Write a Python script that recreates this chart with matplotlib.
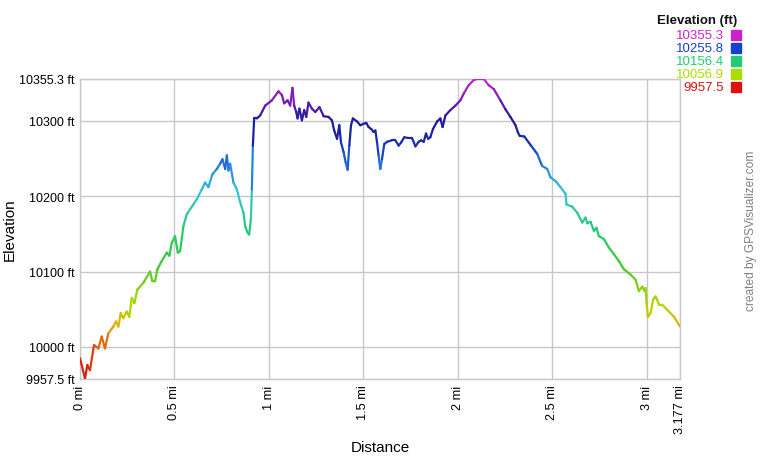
import numpy as np
import matplotlib
matplotlib.use("Agg")
import matplotlib.pyplot as plt
from matplotlib.collections import LineCollection
from matplotlib.colors import LinearSegmentedColormap, Normalize

plt.rcParams['font.family'] = ['Liberation Sans', 'DejaVu Sans']

# distance (mi)
distance = [0.0, 0.0265, 0.0387, 0.053, 0.0742, 0.097, 0.115, 0.1325, 0.15, 0.1765,
            0.1908, 0.203, 0.2157, 0.2295, 0.2475, 0.2613, 0.274, 0.2878, 0.3037, 0.3355,
            0.371, 0.3832, 0.3975, 0.4097, 0.433, 0.4595, 0.4733, 0.486, 0.5035, 0.5178,
            0.53, 0.5475, 0.5655, 0.6005, 0.6185, 0.645, 0.6625, 0.68, 0.7012, 0.7245,
            0.742, 0.7542, 0.7685, 0.7776, 0.786, 0.795, 0.8125, 0.8305, 0.848, 0.8655,
            0.8745, 0.8867, 0.8957, 0.9048, 0.91, 0.9154, 0.9222, 0.9366, 0.954, 0.9806,
            1.016, 1.051, 1.069, 1.081, 1.099, 1.113, 1.125, 1.134, 1.145, 1.152,
            1.162, 1.175, 1.187, 1.198, 1.21, 1.228, 1.246, 1.268, 1.29, 1.316,
            1.334, 1.346, 1.361, 1.373, 1.382, 1.396, 1.408, 1.417, 1.426, 1.435,
            1.445, 1.467, 1.484, 1.502, 1.516, 1.528, 1.542, 1.555, 1.564, 1.573,
            1.581, 1.59, 1.599, 1.611, 1.626, 1.652, 1.67, 1.687, 1.7, 1.717,
            1.74, 1.758, 1.776, 1.793, 1.806, 1.82, 1.832, 1.843, 1.855, 1.869,
            1.891, 1.908, 1.92, 1.935, 1.961, 1.988, 2.014, 2.032, 2.058, 2.085,
            2.103, 2.138, 2.164, 2.191, 2.226, 2.253, 2.279, 2.306, 2.318, 2.328,
            2.353, 2.385, 2.421, 2.447, 2.474, 2.491, 2.518, 2.544, 2.571, 2.576,
            2.606, 2.633, 2.659, 2.677, 2.686, 2.703, 2.721, 2.735, 2.747, 2.774,
            2.8, 2.827, 2.853, 2.88, 2.915, 2.942, 2.959, 2.977, 2.99, 2.995,
            3.0, 3.007, 3.021, 3.035, 3.048, 3.066, 3.083, 3.118, 3.145, 3.177]

# elevation (ft)
elevation = [9985, 9958, 9976, 9969, 10002.7, 9998, 10013.8, 9998, 10018, 10027,
             10033.8, 10027, 10045, 10038, 10047, 10040, 10065, 10058, 10076, 10085,
             10100, 10087, 10087, 10103, 10114, 10125, 10121, 10138, 10147, 10125,
             10127, 10160, 10176, 10189, 10196, 10209, 10218, 10212, 10229, 10236,
             10243, 10249, 10236, 10254, 10234, 10243, 10218, 10209, 10192, 10178,
             10160, 10152, 10149, 10169, 10209, 10267, 10303, 10303, 10307, 10320,
             10327, 10339, 10334, 10323, 10327, 10320, 10343.6, 10320, 10311.6, 10303,
             10316, 10300.4, 10314, 10305, 10324, 10316, 10311.6, 10318, 10306, 10305,
             10300.4, 10287, 10276, 10294, 10271, 10258, 10243, 10235, 10267, 10294,
             10303, 10299, 10294, 10296, 10297, 10291.6, 10289, 10285, 10287, 10271,
             10254, 10236, 10249, 10269, 10272, 10274, 10274, 10267, 10271, 10278,
             10277, 10277, 10266, 10272, 10274, 10272, 10283, 10276, 10278, 10289,
             10299, 10303, 10291.6, 10307, 10314, 10320, 10327, 10336, 10347, 10354,
             10355.3, 10355.3, 10347, 10342, 10327, 10315, 10305, 10294, 10285, 10280,
             10279, 10268, 10256, 10240, 10236, 10225, 10220, 10212, 10203, 10189,
             10186, 10178, 10165, 10171.6, 10164, 10166, 10154, 10158, 10147, 10143,
             10132, 10123, 10114, 10103, 10096, 10089, 10074, 10080, 10074, 10078,
             10058, 10040, 10045, 10063, 10067, 10056, 10056, 10047, 10040, 10027]

y_min, y_max = 9957.5, 10355.3
x_max = 3.177
y_ticks = [9957.5, 10000, 10100, 10200, 10300, 10355.3]
y_tick_labels = ['9957.5 ft', '10000 ft', '10100 ft', '10200 ft', '10300 ft', '10355.3 ft']
x_ticks = [0, 0.5, 1, 1.5, 2, 2.5, 3, 3.177]
x_tick_labels = ['0 mi', '0.5 mi', '1 mi', '1.5 mi', '2 mi', '2.5 mi', '3 mi', '3.177 mi']

legend_values = ['10355.3', '10255.8', '10156.4', '10056.9', '9957.5']
legend_colors = ['#cc22cc', '#1144cc', '#22cc77', '#aadd00', '#dd1111']

cmap = LinearSegmentedColormap.from_list('elev', [
    (0.0, '#d01010'), (0.1, '#e05010'), (0.18, '#e0b000'), (0.25, '#b0d800'),
    (0.38, '#40c830'), (0.5, '#22cc77'), (0.56, '#30c8a0'), (0.62, '#30c8d0'),
    (0.7, '#2a8ae0'), (0.75, '#1448cc'), (0.8, '#1a28a8'), (0.87, '#20189a'),
    (0.91, '#5a1aa8'), (0.96, '#9a20c0'), (1.0, '#cc22cc')])

fig = plt.figure(figsize=(7.6, 4.6), dpi=100)
ax = fig.add_axes([80/760, 80/460, 600/760, 300/460])

x = np.array(distance)
y = np.array(elevation)
pts = np.column_stack([x, y]).reshape(-1, 1, 2)
segs = np.concatenate([pts[:-1], pts[1:]], axis=1)
mid = (y[:-1] + y[1:]) / 2
lc = LineCollection(segs, cmap=cmap, norm=Normalize(y_min, y_max), linewidth=1.6,
                    capstyle='round', joinstyle='round', zorder=3)
lc.set_array(mid)
ax.add_collection(lc)

ax.set_xlim(0, x_max)
ax.set_ylim(y_min, y_max)
ax.set_yticks(y_ticks)
ax.set_yticklabels(y_tick_labels, fontsize=9)
ax.set_xticks(x_ticks)
ax.set_xticklabels(x_tick_labels, fontsize=9.2, rotation=90)
ax.tick_params(length=0, pad=4)
ax.grid(True, color='#c8c8c8', linewidth=1)
for s in ax.spines.values():
    s.set_color('#c8c8c8')
    s.set_linewidth(1)
ax.set_xlabel('Distance', fontsize=11)
ax.set_ylabel('Elevation', fontsize=11)
ax.xaxis.set_label_coords(0.5, -0.205)
ax.yaxis.set_label_coords(-0.105, 0.5)

# legend
fig.text(697/760, 1 - 21/460, 'Elevation (ft)', fontsize=9.5, fontweight='bold',
         ha='center', va='center', color='#111111')
for i, (v, c) in enumerate(zip(legend_values, legend_colors)):
    yy = 36 + i * 13
    fig.text(724/760, 1 - yy/460, v, fontsize=9.5, color=c, ha='right', va='center')
    fig.patches.append(plt.Rectangle((731/760, 1 - (yy + 5)/460), 10/760, 10/460,
                                     transform=fig.transFigure, color=c, figure=fig))

fig.text(751/760, 1 - 231/460, 'created by GPSVisualizer.com', fontsize=8.6,
         color='#808080', rotation=90, ha='center', va='center')

fig.savefig('out.png', dpi=100, facecolor='white')
